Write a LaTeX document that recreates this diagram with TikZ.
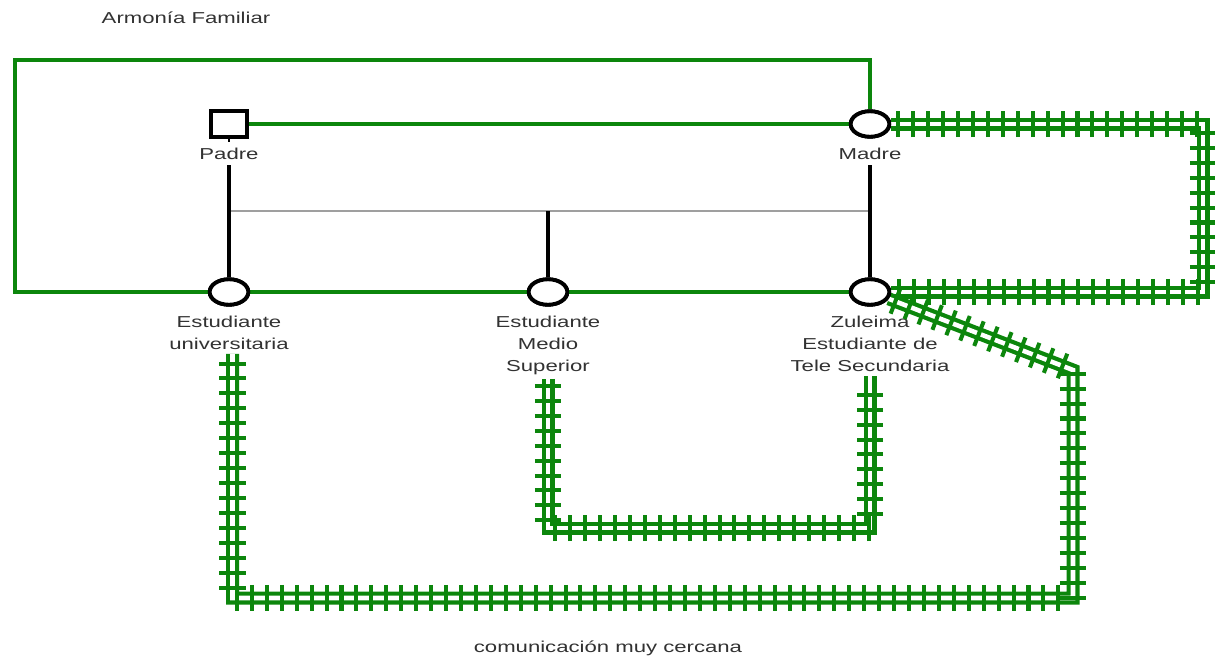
\documentclass[tikz,border=0pt]{standalone}
\usepackage{fontspec}
\usetikzlibrary{shapes.geometric,decorations.markings}
\newfontfamily\lab[FakeStretch=1.4]{Liberation Sans}
\definecolor{grn}{RGB}{12,134,12}
\definecolor{txtg}{RGB}{50,50,50}
\begin{document}
\begin{tikzpicture}[x=0.02cm,y=-0.02cm,
  harm/.style={draw=grn,line width=2.1pt},
  blk/.style={draw=black,line width=2.1pt},
  gry/.style={draw=gray!75,line width=1.2pt},
  fem/.style={ellipse,draw=black,line width=2.2pt,fill=white,minimum width=22pt,minimum height=14.5pt,inner sep=0pt},
  mal/.style={rectangle,draw=black,line width=2.2pt,fill=white,minimum width=20pt,minimum height=14.5pt,inner sep=0pt},
  lbl/.style={font=\lab\fontsize{9}{12.5}\selectfont,text=txtg,inner sep=0pt,align=center},
  cercana/.style={draw=grn,line width=2.4pt,double=white,double distance=2.6pt,
    postaction={decorate,decoration={markings,
      mark=between positions 4pt and -3pt step 8.5pt with {\draw[grn,line width=2.3pt] (0,-7.5pt) -- (0,7.5pt);}}}}
]
\useasboundingbox (0,0) rectangle (1215,657);
\fill[white] (0,0) rectangle (1215,657);

% title texts
\node[lbl] (title) at (186,18) {Armonía Familiar};
\node[lbl] (legend) at (608,648) {comunicación muy cercana};

% people
\node[mal] (padre) at (229,124) {};
\node[fem] (madre) at (870,124) {};
\node[fem] (univ) at (229,292) {};
\node[fem] (med) at (548,292) {};
\node[fem] (zul) at (870,292) {};

\node[lbl] (padrelab) at (229,154) {Padre};
\node[lbl] (madrelab) at (870,154) {Madre};
\node[lbl,anchor=north] (univlab) at (229,316) {Estudiante\\universitaria};
\node[lbl,anchor=north] (medlab) at (548,316) {Estudiante\\Medio\\Superior};
\node[lbl,anchor=north] (zullab) at (870,316) {Zuleima\\Estudiante de\\Tele Secundaria};

% family structure
\coordinate (sibL) at (229,211);
\coordinate (sibR) at (870,211);
\draw[gry] (sibL) -- (sibR);
\draw[blk] ([yshift=-3pt]padrelab.south) -- (univ.north);
\draw[blk] ([yshift=-3pt]madrelab.south) -- (zul.north);
\draw[blk] (sibL -| med) -- (med.north);
\draw[black,line width=1.4pt] (padre.south) -- ++(0,3);

% harmony relations
\coordinate (tl) at (15,60);
\draw[harm] (padre.east) -- (madre.west);
\draw[harm] (madre.north) |- (tl) |- (univ.west);
\draw[harm] (univ.east) -- (med.west);
\draw[harm] (med.east) -- (zul.west);

% very close communication
\coordinate (r1) at (1203,124);
\coordinate (d1) at (1073,370);
\coordinate (d2) at (1073,598);
\coordinate (m3) at (548,528);
\draw[cercana] (madre.east) -- (r1) |- (zul.east);
\draw[cercana] (zul.-20) -- (d1) -- (d2) -| ([xshift=2pt,yshift=-2pt]univlab.south);
\draw[cercana] ([yshift=-2pt]medlab.south) -- (m3) -| ([yshift=-2pt]zullab.south);

% redraw people on top
\node[mal] at (padre) {};
\node[fem] at (madre) {};
\node[fem] at (univ) {};
\node[fem] at (med) {};
\node[fem] at (zul) {};
\end{tikzpicture}
\end{document}
